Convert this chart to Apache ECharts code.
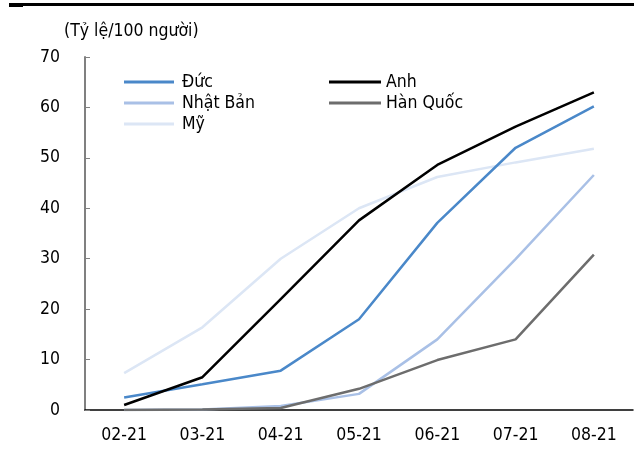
<!DOCTYPE html>
<html>
<head>
<meta charset="utf-8">
<script src="https://cdn.jsdelivr.net/npm/echarts@6/dist/echarts.min.js"></script>
<style>html,body{margin:0;padding:0;background:#fff}#c{width:634px;height:453px}</style>
</head>
<body>
<div id="c"></div>
<script>
const categories = ['02-21','03-21','04-21','05-21','06-21','07-21','08-21'];
const duc = [2.5, 5.1, 7.8, 18.0, 37.1, 52.0, 60.2];
const anh = [1.0, 6.5, 22.0, 37.6, 48.6, 56.2, 63.0];
const nhatBan = [0.0, 0.1, 0.8, 3.2, 14.0, 29.9, 46.6];
const hanQuoc = [0.0, 0.1, 0.4, 4.2, 9.9, 14.0, 30.8];
const my = [7.3, 16.4, 30.0, 40.0, 46.2, 49.1, 51.8];
const yTicks = [0, 10, 20, 30, 40, 50, 60, 70];

const FONT = '"DejaVu Sans Condensed", "DejaVu Sans", sans-serif';
const FS = 17.5;
const chart = echarts.init(document.getElementById('c'), null, {renderer: 'canvas'});
function mk(name, data, color, z) {
  return {name, type: 'line', data, symbol: 'none', showSymbol: false, z,
    lineStyle: {color, width: 2.5}, itemStyle: {color}, emphasis: {disabled: true}};
}
chart.setOption({
  animation: false,
  textStyle: {fontFamily: FONT},
  graphic: [
    {type: 'rect', shape: {x: 9, y: 3, width: 625, height: 3}, style: {fill: '#000'}},
    {type: 'rect', shape: {x: 9, y: 4, width: 14, height: 3}, style: {fill: '#000'}},
    {type: 'text', left: 64, top: 22, style: {text: '(Tỷ lệ/100 người)', font: FS + 'px ' + FONT, fill: '#000'}}
  ],
  legend: [
    {data: ['Đức', 'Nhật Bản', 'Mỹ'], orient: 'vertical', left: 124, top: 71.5, itemGap: 0, padding: 0,
     itemWidth: 50, itemHeight: 3, icon: 'rect',
     textStyle: {fontSize: FS, fontFamily: FONT, color: '#000', lineHeight: 21, padding: [0,0,0,3]}},
    {data: ['Anh', 'Hàn Quốc'], orient: 'vertical', left: 329, top: 71.5, itemGap: 0, padding: 0,
     itemWidth: 52, itemHeight: 3, icon: 'rect',
     textStyle: {fontSize: FS, fontFamily: FONT, color: '#000', lineHeight: 21, padding: [0,0,0,0]}}
  ],
  grid: {left: 85, right: 1, top: 57, bottom: 43, containLabel: false},
  xAxis: {
    type: 'category', data: categories, boundaryGap: true,
    axisLine: {lineStyle: {color: '#000', width: 1.5}},
    axisTick: {inside: true, length: 6, lineStyle: {color: '#000', width: 1}, alignWithLabel: false},
    axisLabel: {fontSize: FS, fontFamily: FONT, color: '#000', margin: 16, interval: 0},
    splitLine: {show: false}
  },
  yAxis: {
    type: 'value', min: yTicks[0], max: yTicks[yTicks.length - 1], interval: 10,
    axisLine: {show: true, lineStyle: {color: '#808080', width: 2}},
    axisTick: {show: true, inside: true, length: 5, lineStyle: {color: '#808080', width: 1}},
    axisLabel: {fontSize: FS, fontFamily: FONT, color: '#000', margin: 25},
    splitLine: {show: false}
  },
  series: [
    mk('Mỹ', my, '#dce6f5', 2),
    mk('Nhật Bản', nhatBan, '#a9c0e6', 3),
    mk('Hàn Quốc', hanQuoc, '#6d6d6d', 4),
    mk('Đức', duc, '#4a88c9', 5),
    mk('Anh', anh, '#000000', 6)
  ]
});
</script>
</body>
</html>
